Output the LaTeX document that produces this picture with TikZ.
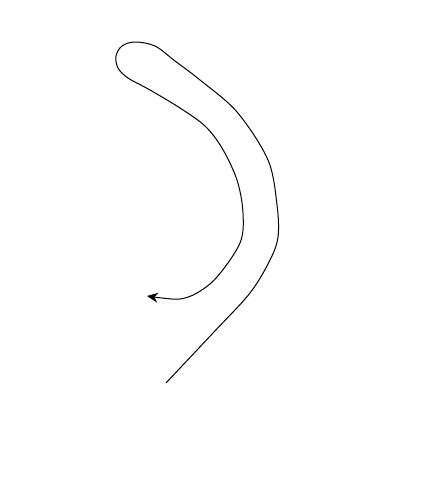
\documentclass[tikz,border=0pt]{standalone}
\usetikzlibrary{arrows.meta}
\tikzset{stroke/.style={draw=black, line width=1pt, line join=round, -{Stealth[length=11pt,width=10pt]}}}
\begin{document}
\begin{tikzpicture}[x=1pt,y=-1pt]
\useasboundingbox[fill=white] (0,0) rectangle (447,485);
\coordinate (start) at (166,383);
\coordinate (tip) at (147,296);
\draw[stroke] plot[smooth, tension=0.55] coordinates {
(166,383) (213,333) (250,293) (270,260) (278,237) (277,205) (268,160) (237,112) (200,80) (175,61) (155,46) (135,42) (122,46) (116,56) (118,68) (128,78) (150,90) (180,108) (205,126) (222,148) (237,180) (243,213) (240,243) (217,277) (197,293) (180,299) (162,298) (147,296)};
\end{tikzpicture}
\end{document}
